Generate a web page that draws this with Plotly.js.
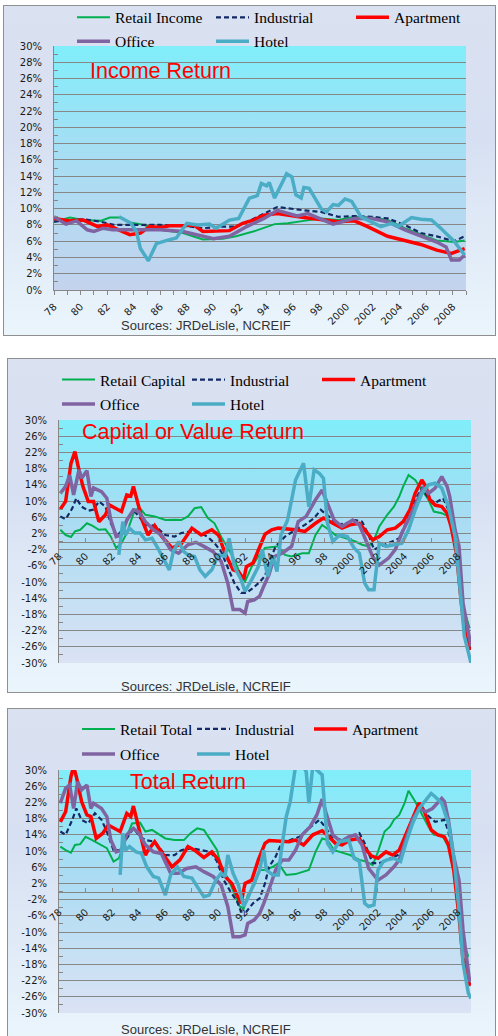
<!DOCTYPE html>
<html><head><meta charset="utf-8">
<script src="https://cdn.plot.ly/plotly-3.0.1.min.js"></script>
<style>
html,body{margin:0;padding:0;width:498px;height:1036px;overflow:hidden;background:#ffffff;}
.box{position:absolute;box-sizing:border-box;border:1px solid #8f8f8f;
 background:linear-gradient(180deg,#dae1f1 0%,#d7e0f2 40%,#eaf5fc 100%);}
.pa{position:absolute;}
.chart{position:absolute;}
</style></head><body>
<div id="b1" class="box"></div><div id="a1" class="pa"></div><div id="c1" class="chart"></div>
<div id="b2" class="box"></div><div id="a2" class="pa"></div><div id="c2" class="chart"></div>
<div id="b3" class="box"></div><div id="a3" class="pa"></div><div id="c3" class="chart"></div>
<script>
// ---------------- DATA (percent) ----------------
// Income return
const incRetailX = [1978.0,1979.2,1980.2,1981.5,1982.2,1983.0,1983.7,1984.5,1986.0,1987.7,1989.2,1990.7,1991.7,1993.2,1994.6,1995.6,1996.8,1998.1,1999.4,2000.6,2001.9,2003.1,2004.4,2005.6,2006.8,2008.1,2008.9];
const incRetailY = [8.4,8.9,8.6,8.5,8.9,8.9,8.3,8.1,7.4,7.0,6.2,6.3,6.6,7.3,8.1,8.2,8.5,8.8,8.6,9.0,8.9,8.6,7.6,6.8,6.1,5.9,6.1];
const incIndX = [1978.0,1979.2,1980.2,1981.5,1982.5,1984.2,1986.0,1987.7,1989.2,1990.7,1991.7,1992.7,1993.8,1994.8,1996.8,1998.1,1999.4,2000.6,2001.9,2003.1,2004.4,2005.6,2006.8,2008.1,2008.9];
const incIndY = [8.4,8.6,8.7,8.4,8.0,8.0,8.0,7.9,7.6,7.8,7.8,8.5,9.4,10.2,9.8,9.6,9.0,9.1,9.0,8.8,8.0,7.0,6.6,6.0,6.6];
const incAptX = [1978.0,1978.7,1979.2,1980.2,1981.3,1982.0,1982.7,1983.7,1984.5,1985.2,1986.0,1986.7,1987.7,1988.5,1989.2,1990.2,1991.2,1992.2,1993.0,1993.8,1994.8,1996.8,1998.1,1999.4,2000.6,2001.6,2003.1,2004.4,2005.6,2006.8,2007.9,2008.9];
const incAptY = [8.8,8.6,8.5,8.6,7.8,8.0,7.5,6.8,7.0,7.8,7.7,7.9,7.9,8.0,7.2,7.3,7.3,8.2,8.6,9.2,9.4,8.9,8.6,8.4,8.5,7.8,6.6,6.1,5.6,4.9,4.5,5.1];
const incOffX = [1978.0,1978.9,1979.7,1980.5,1981.0,1981.7,1982.4,1983.2,1984.2,1986.0,1987.7,1989.0,1990.0,1991.2,1992.5,1993.8,1994.8,1996.3,1997.1,1999.0,2000.6,2001.9,2003.1,2004.4,2005.6,2006.8,2007.5,2007.9,2008.5,2008.9];
const incOffY = [9.0,8.1,8.5,7.4,7.2,7.6,7.4,7.4,7.4,7.4,7.2,6.7,6.3,6.6,7.8,8.8,9.8,9.1,9.4,8.1,8.8,8.8,8.4,7.4,6.6,5.9,5.3,3.7,3.7,4.3];
const incHotX = [1982.9,1983.8,1984.2,1984.5,1985.1,1985.7,1986.5,1987.2,1988.0,1988.8,1989.7,1990.2,1991.2,1991.9,1992.7,1993.3,1993.6,1994.0,1994.2,1994.6,1995.5,1995.9,1996.2,1996.6,1996.8,1997.2,1998.1,1998.5,1999.0,1999.4,1999.9,2000.4,2001.1,2001.9,2002.6,2003.4,2003.9,2004.9,2005.6,2006.4,2007.1,2008.1,2008.9];
const incHotY = [9.0,8.2,7.2,5.1,3.6,5.7,6.1,6.4,8.2,8.0,8.1,7.6,8.6,8.8,11.3,11.6,13.1,12.8,13.2,11.3,14.3,13.9,11.7,11.3,12.6,12.5,10.0,9.6,10.5,10.4,11.2,10.9,9.0,8.4,7.8,8.2,7.8,8.9,8.7,8.6,7.6,6.0,4.3];

// Capital or value return
const capRetailX = [1978.1,1978.5,1978.9,1979.2,1979.6,1980.1,1980.5,1981.0,1981.5,1981.9,1982.3,1982.7,1983.1,1983.7,1984.1,1984.5,1985.2,1986.0,1986.7,1987.2,1987.7,1988.2,1988.7,1989.2,1989.7,1990.2,1990.7,1991.2,1991.7,1992.0,1992.5,1993.0,1993.5,1994.5,1995.0,1995.5,1996.3,1996.8,1997.3,1997.8,1998.3,1998.8,1999.6,2000.3,2000.8,2001.3,2001.7,2002.1,2002.7,2003.2,2003.6,2003.9,2004.3,2004.8,2005.3,2005.8,2006.2,2006.8,2007.3,2007.7,2008.1,2008.4,2008.9];
const capRetailY = [2.9,1.6,1.1,2.5,2.9,4.5,3.9,2.9,3.0,1.2,-1.6,-0.4,2.1,7.8,8.2,6.6,6.2,5.3,5.4,5.3,6.2,8.2,8.5,5.8,4.5,1.2,-1.6,-4.5,-8.6,-9.9,-6.2,-3.7,-1.6,-1.2,-3.3,-3.7,-2.9,-2.9,1.6,4.1,2.9,1.6,0.8,0.0,-0.8,-1.2,0.4,3.7,6.6,8.6,11.1,13.6,16.4,15.2,12.7,10.3,7.4,7.0,6.2,2.9,-7.0,-16.0,-21.4];
const capIndX = [1978.1,1978.5,1979.0,1979.3,1979.7,1980.2,1980.6,1981.0,1981.5,1981.9,1982.4,1983.0,1983.6,1984.0,1984.5,1985.2,1986.0,1986.7,1987.2,1988.0,1988.7,1989.2,1989.7,1990.2,1990.7,1991.2,1991.7,1992.1,1992.6,1993.1,1993.5,1993.8,1994.3,1995.0,1995.8,1996.5,1997.2,1997.7,1998.3,1998.9,1999.6,2000.3,2000.8,2001.3,2001.7,2002.2,2002.8,2003.6,2004.2,2004.8,2005.3,2005.8,2006.3,2006.9,2007.3,2007.8,2008.2,2008.5,2009.0];
const capIndY = [6.2,5.5,8.2,10.7,8.6,7.6,7.9,9.9,8.6,4.5,1.2,4.5,7.8,6.2,4.1,3.9,1.6,1.2,2.1,2.5,2.1,1.1,-0.4,-2.5,-6.2,-10.3,-12.7,-12.7,-11.5,-10.0,-8.5,-5.3,-1.2,1.2,2.9,4.1,5.8,7.8,6.2,4.1,4.5,5.3,4.9,1.6,-2.0,-1.2,-0.4,0.8,5.3,10.3,13.2,10.7,9.5,10.7,7.8,2.9,-11.1,-21.8,-26.7];
const capAptX = [1978.1,1978.5,1978.9,1979.2,1979.5,1979.8,1980.2,1980.6,1981.0,1981.5,1981.8,1982.3,1982.7,1983.1,1983.4,1983.6,1983.9,1984.3,1984.7,1985.2,1985.7,1986.5,1987.2,1988.0,1988.7,1989.5,1990.0,1990.5,1991.1,1991.5,1991.9,1992.1,1992.6,1993.1,1993.5,1994.0,1994.5,1995.8,1996.5,1997.3,1997.9,1998.6,1999.3,1999.9,2000.6,2001.1,2001.6,2002.1,2002.7,2003.3,2003.9,2004.4,2004.8,2005.3,2005.6,2005.9,2006.3,2006.8,2007.2,2007.5,2007.9,2008.3,2008.6,2009.0];
const capAptY = [8.0,9.9,19.3,22.2,17.7,13.6,9.9,9.9,4.9,6.6,9.0,8.2,7.4,11.5,11.2,13.6,9.5,4.9,1.6,3.9,1.4,-1.6,-0.6,3.3,1.6,2.9,1.6,-2.9,-7.0,-7.4,-9.3,-6.2,-5.3,-1.6,1.8,2.9,3.3,2.9,2.5,4.5,5.8,4.5,3.3,4.1,4.5,2.5,0.4,1.2,2.9,3.3,4.9,7.8,11.9,15.2,13.6,10.3,9.0,8.6,7.0,3.7,-2.9,-16.0,-23.4,-26.7];
const capOffX = [1978.1,1978.5,1978.8,1979.1,1979.5,1979.7,1980.1,1980.4,1980.6,1981.2,1981.6,1981.9,1982.3,1982.7,1983.1,1983.6,1984.0,1984.5,1985.1,1985.7,1986.4,1987.0,1987.7,1988.3,1988.9,1989.6,1990.2,1990.7,1991.1,1991.6,1992.0,1992.2,1992.7,1993.1,1993.4,1993.8,1994.2,1994.8,1995.5,1996.0,1996.6,1997.3,1997.8,1998.2,1998.7,1999.3,2000.1,2000.6,2001.1,2001.6,2002.1,2002.8,2003.3,2003.8,2004.4,2005.1,2005.4,2005.8,2006.3,2006.8,2007.2,2007.4,2007.8,2008.1,2008.4,2009.0];
const capOffY = [11.9,13.6,16.4,11.5,17.7,15.6,17.5,11.1,13.2,12.3,10.7,5.3,1.2,1.6,5.3,7.8,7.4,4.9,2.9,1.6,-2.0,-2.9,-0.8,-0.2,-1.2,-2.5,-4.9,-10.3,-16.8,-16.8,-17.7,-14.8,-14.4,-13.5,-11.1,-8.2,-3.7,-2.9,-1.2,4.9,6.2,10.3,12.7,9.5,5.3,3.7,5.3,4.1,0.0,-3.7,-5.8,-4.1,-2.0,2.1,6.2,11.1,13.2,11.9,13.2,16.0,13.6,11.1,2.9,-1.2,-15.2,-25.9];
const capHotX = [1982.5,1982.8,1983.0,1983.3,1983.7,1984.1,1984.5,1985.0,1985.5,1986.0,1986.3,1986.6,1987.0,1987.4,1987.7,1988.2,1988.6,1989.0,1989.5,1990.0,1990.5,1990.8,1991.2,1991.7,1992.0,1992.5,1993.0,1993.3,1993.7,1994.1,1994.4,1994.7,1995.2,1995.8,1996.4,1996.8,1997.2,1997.6,1997.9,1998.2,1998.6,1999.1,1999.7,2000.2,2000.6,2001.0,2001.3,2001.7,2002.1,2002.6,2003.2,2003.8,2004.3,2004.8,2005.3,2005.8,2006.3,2006.8,2007.3,2007.8,2008.2,2008.5,2009.0];
const capHotY = [-3.3,4.9,1.6,3.3,2.1,2.1,0.4,0.8,-2.0,-5.3,-7.0,-2.5,0.0,-2.5,-3.3,-3.7,-7.0,-8.6,-7.0,-3.3,-3.7,0.8,-6.2,-9.4,-12.3,-9.4,-6.2,-2.0,-8.6,-3.7,-7.4,1.6,5.3,15.2,19.3,8.6,17.7,16.8,15.6,4.5,0.0,1.6,1.2,-1.6,-2.9,-10.3,-11.9,-11.9,-0.4,-1.2,-0.8,-0.4,2.9,7.8,11.9,14.0,14.4,13.2,8.6,1.2,-12.7,-23.4,-30.0];

// Total return
const totRetailX = [1978.1,1978.5,1978.9,1979.2,1979.6,1980.0,1980.5,1981.1,1981.6,1982.1,1982.5,1983.0,1983.5,1984.1,1984.5,1985.0,1986.0,1986.7,1987.4,1987.9,1988.4,1988.9,1989.4,1989.9,1990.2,1990.7,1991.2,1991.6,1991.9,1992.2,1992.7,1993.1,1993.5,1994.1,1994.5,1995.1,1995.8,1996.4,1996.8,1997.3,1997.8,1998.2,1998.7,1999.3,1999.9,2000.6,2001.1,2001.6,2002.0,2002.5,2002.9,2003.2,2003.6,2004.0,2004.3,2004.8,2005.3,2005.8,2006.2,2006.8,2007.3,2007.7,2008.1,2008.4,2008.8];
const totRetailY = [11.1,10.2,9.6,11.5,11.7,13.5,12.7,11.5,10.7,7.4,8.2,12.7,16.8,17.0,14.8,15.2,13.1,12.7,12.7,14.4,15.6,15.2,12.7,10.2,6.1,3.3,-0.5,-3.7,-4.2,-0.9,1.6,5.3,5.3,6.1,7.0,4.1,4.3,4.9,5.3,9.8,13.1,12.7,10.2,9.6,9.0,7.8,7.4,6.5,9.8,14.8,16.0,17.7,18.9,21.8,24.9,22.2,18.9,16.0,14.0,14.0,11.1,6.1,-4.6,-12.0,-16.1];
const totIndX = [1978.1,1978.5,1979.0,1979.3,1979.7,1980.2,1980.7,1981.2,1981.6,1982.1,1982.6,1983.1,1983.6,1984.1,1984.5,1985.2,1986.0,1986.7,1987.2,1988.0,1988.7,1989.4,1989.9,1990.4,1990.9,1991.4,1991.7,1992.1,1992.6,1993.1,1993.5,1993.8,1994.3,1994.8,1995.3,1996.1,1996.8,1997.6,1998.1,1998.6,1999.3,1999.9,2000.6,2001.0,2001.6,2002.1,2002.7,2003.5,2004.1,2004.7,2005.2,2005.7,2006.3,2007.0,2007.3,2007.7,2008.1,2008.4,2008.9];
const totIndY = [14.8,14.0,17.7,20.5,17.7,16.8,19.3,17.7,14.8,10.2,10.2,13.1,15.6,13.5,12.7,12.3,9.0,9.0,10.2,10.7,10.2,9.8,7.4,2.8,0.0,-2.5,-5.0,-5.0,-2.9,-1.7,2.0,6.1,8.6,12.3,12.6,13.5,15.6,17.7,15.6,13.1,12.7,13.5,14.4,11.9,7.0,7.0,7.8,9.0,13.5,18.5,21.4,18.9,17.2,17.7,14.8,7.8,-3.7,-15.3,-22.7];
const totAptX = [1978.1,1978.5,1978.9,1979.1,1979.3,1979.7,1980.1,1980.4,1980.8,1981.3,1981.7,1982.2,1982.6,1983.1,1983.4,1983.6,1983.9,1984.5,1984.7,1985.2,1985.7,1986.5,1987.1,1987.7,1988.2,1988.9,1989.5,1990.0,1990.5,1991.0,1991.4,1991.7,1992.0,1992.5,1993.0,1993.5,1993.8,1994.5,1995.3,1995.8,1996.4,1997.1,1997.8,1998.3,1998.8,1999.3,1999.9,2000.6,2001.0,2001.5,2002.0,2002.6,2003.1,2003.6,2004.1,2004.6,2005.1,2005.5,2006.0,2006.5,2007.0,2007.3,2007.7,2008.1,2008.4,2008.8,2009.0];
const totAptY = [17.2,19.7,28.4,30.8,28.4,22.2,18.9,18.5,13.1,14.4,16.4,15.6,14.8,19.3,18.5,21.1,16.8,9.0,10.2,12.3,9.8,6.1,7.8,11.1,10.2,8.4,9.8,7.8,3.7,2.0,-0.9,-2.9,2.0,2.8,7.8,11.9,12.6,12.5,12.3,12.7,11.5,14.0,15.0,13.5,11.9,11.5,12.7,13.1,10.7,8.8,8.2,9.8,9.0,10.2,14.0,17.7,21.9,19.7,15.2,14.0,13.5,11.5,5.3,-6.2,-16.9,-22.7,-23.1];
const totOffX = [1978.1,1978.5,1978.8,1979.1,1979.4,1979.7,1980.1,1980.4,1980.6,1981.2,1981.6,1981.9,1982.3,1982.7,1983.1,1983.6,1984.0,1984.5,1985.1,1985.7,1986.4,1987.0,1987.6,1988.3,1988.9,1989.6,1990.2,1990.7,1991.1,1991.6,1992.0,1992.2,1992.7,1993.1,1993.4,1993.7,1994.0,1994.3,1994.8,1995.3,1995.8,1996.3,1996.9,1997.4,1997.8,1998.1,1998.6,1999.2,1999.8,2000.3,2000.8,2001.3,2002.0,2002.6,2003.2,2003.6,2004.1,2004.6,2005.1,2005.6,2006.1,2006.8,2007.0,2007.3,2007.7,2008.1,2008.4,2008.9];
const totOffY = [21.8,25.5,26.3,20.5,27.1,25.1,26.3,20.5,21.8,20.5,18.5,12.7,9.8,10.2,14.0,15.6,14.4,11.5,9.8,9.4,4.5,4.5,5.7,6.1,4.9,3.7,1.6,-3.7,-11.2,-11.2,-10.7,-7.9,-7.0,-5.4,-3.0,-0.5,2.4,5.3,7.8,7.8,10.2,14.0,16.0,18.9,22.8,19.3,14.0,12.3,13.5,14.0,11.5,5.7,2.8,4.1,6.1,7.8,13.1,17.7,20.5,19.7,20.5,23.0,22.2,17.7,8.6,2.8,-9.5,-22.3];
const totHotX = [1982.6,1982.8,1983.0,1983.3,1983.8,1984.2,1984.6,1985.1,1985.5,1986.0,1986.4,1986.9,1987.4,1988.0,1988.4,1988.9,1989.3,1989.8,1990.2,1990.5,1990.7,1991.1,1991.5,1991.9,1992.2,1992.7,1993.1,1993.4,1993.6,1994.1,1994.5,1994.7,1995.1,1995.4,1995.8,1996.2,1996.6,1996.8,1997.1,1997.4,1997.8,1998.2,1998.6,1999.1,1999.8,2000.2,2000.6,2001.0,2001.3,2001.7,2002.0,2002.4,2002.7,2003.2,2003.7,2004.1,2004.6,2005.1,2005.6,2006.0,2006.3,2006.8,2007.3,2007.7,2008.1,2008.4,2008.8,2009.0];
const totHotY = [4.1,14.4,10.2,11.1,9.8,9.4,6.1,3.7,3.3,-0.9,4.1,6.1,3.7,3.3,1.2,-1.3,-0.9,2.8,4.5,3.7,9.0,4.5,1.6,-3.7,-1.7,2.4,5.3,10.2,5.3,4.1,4.1,9.4,18.5,22.2,31.0,32.0,29.6,21.8,31.0,30.0,28.8,11.9,9.8,12.3,12.7,8.2,7.4,-2.9,-3.7,-3.3,5.3,7.4,7.8,8.2,7.4,11.9,16.8,20.5,22.6,24.2,23.4,21.8,16.8,8.6,-4.6,-17.7,-25.1,-26.4];

// Legend names
const incNames = ['Retail Income','Industrial','Apartment','Office','Hotel'];
const capNames = ['Retail Capital','Industrial','Apartment','Office','Hotel'];
const totNames = ['Retail Total','Industrial','Apartment','Office','Hotel'];

// Tick labels
const xTickVals = [1978,1980,1982,1984,1986,1988,1990,1992,1994,1996,1998,2000,2002,2004,2006,2008];
const xTickText = ['78','80','82','84','86','88','90','92','94','96','98','2000','2002','2004','2006','2008'];
const yTickVals1 = [0,2,4,6,8,10,12,14,16,18,20,22,24,26,28,30];
const yTickText1 = ['0%','2%','4%','6%','8%','10%','12%','14%','16%','18%','20%','22%','24%','26%','28%','30%'];
const yTickVals2 = [-30,-26,-22,-18,-14,-10,-6,-2,2,6,10,14,18,22,26,30];
const yTickText2 = ['-30%','-26%','-22%','-18%','-14%','-10%','-6%','-2%','2%','6%','10%','14%','18%','22%','26%','30%'];

// ---------------- STYLE / LAYOUT ----------------
const styles = [
  {color:'#00b050', width:2, dash:'solid'},
  {color:'#142a66', width:2.2, dash:'5px,3px'},
  {color:'#ff0000', width:3.5, dash:'solid'},
  {color:'#8064a2', width:3.5, dash:'solid'},
  {color:'#4bacc6', width:3.5, dash:'solid'}
];
const GRID = '#878787';

const panels = [
  {id:1, box:{x:3,y:5,w:493,h:331}, plot:{x:54,y:46,w:412,h:244},
   plotBg:'linear-gradient(180deg,#80eefa 0%,#a4dff4 40%,#c4d3ee 100%)',
   names:incNames,
   xs:[incRetailX,incIndX,incAptX,incOffX,incHotX], ys:[incRetailY,incIndY,incAptY,incOffY,incHotY],
   legend:[[77,17.7],[216,17.7],[356,17.7],[77,41.7],[216,41.7]],
   title:'Income Return', titlePos:[90,70], srcY:325.7,
   yr:[0,30], ytv:yTickVals1, ytt:yTickText1, minor0:1, minorD:2, zeroAxis:false, xStand:2},
  {id:2, box:{x:7,y:358,w:489,h:335}, plot:{x:59,y:420,w:412,h:243},
   plotBg:'linear-gradient(180deg,#80eefa 0%,#a8dcf3 40%,#dbe2f4 100%)',
   names:capNames,
   xs:[capRetailX,capIndX,capAptX,capOffX,capHotX], ys:[capRetailY,capIndY,capAptY,capOffY,capHotY],
   legend:[[62,380],[192,380],[322,380],[62,404.3],[192,404.3]],
   title:'Capital or Value Return', titlePos:[82,431.7], srcY:686.7,
   yr:[-30,30], ytv:yTickVals2, ytt:yTickText2, minor0:0, minorD:4, zeroAxis:true, xStand:4},
  {id:3, box:{x:7,y:708,w:489,h:332}, plot:{x:59,y:770,w:412,h:243},
   plotBg:'linear-gradient(180deg,#80eefa 0%,#a8dcf3 40%,#dbe2f4 100%)',
   names:totNames,
   xs:[totRetailX,totIndX,totAptX,totOffX,totHotX], ys:[totRetailY,totIndY,totAptY,totOffY,totHotY],
   legend:[[82,729.3],[197,729.3],[314,729.3],[82,754.3],[197,754.3]],
   title:'Total Return', titlePos:[130,781.7], srcY:1029,
   yr:[-30,30], ytv:yTickVals2, ytt:yTickText2, minor0:0, minorD:4, zeroAxis:true, xStand:10}
];

function place(el, r){ el.style.left=r.x+'px'; el.style.top=r.y+'px'; el.style.width=r.w+'px'; el.style.height=r.h+'px'; }

panels.forEach(function(P){
  place(document.getElementById('b'+P.id), P.box);
  const pa = document.getElementById('a'+P.id);
  place(pa, P.plot); pa.style.background = P.plotBg;
  const c = document.getElementById('c'+P.id);
  place(c, P.box);
  const px = function(X){ return (X - P.plot.x)/P.plot.w; };
  const py = function(Y){ return (P.plot.y + P.plot.h - Y)/P.plot.h; };

  const traces = [];
  const layout = {
    width:P.box.w, height:P.box.h,
    margin:{l:P.plot.x-P.box.x, t:P.plot.y-P.box.y,
            r:P.box.x+P.box.w-(P.plot.x+P.plot.w), b:P.box.y+P.box.h-(P.plot.y+P.plot.h), pad:0, autoexpand:false},
    paper_bgcolor:'rgba(0,0,0,0)', plot_bgcolor:'rgba(0,0,0,0)',
    font:{family:'DejaVu Sans', size:10, color:'#1a1a1a'},
    title:{text:P.title, xref:'paper', yref:'paper', x:px(P.titlePos[0]), xanchor:'left',
           y:py(P.titlePos[1]), yanchor:'middle', pad:{t:0,b:0,l:0,r:0},
           font:{family:'Liberation Sans', size:21.5, color:'#ff0000'}},
    xaxis:{range:[1978,2009], tickmode:'array', tickvals:xTickVals, ticktext:xTickText,
           tickangle:-45, showgrid:false, zeroline:false, showline:true, linecolor:GRID, linewidth:1,
           ticks: P.zeroAxis ? 'inside' : 'outside', ticklen:4, tickcolor:GRID,
           minor: P.zeroAxis ? {ticks:''} : {tickmode:'linear', tick0:1979, dtick:2, ticks:'outside', ticklen:4, tickcolor:GRID},
           ticklabelstandoff:P.xStand,
           tickfont:{family:'DejaVu Sans', size:10, color:'#1a1a1a'},
           fixedrange:true},
    yaxis:{range:P.yr, tickmode:'array', tickvals:P.ytv, ticktext:P.ytt,
           showgrid:true, gridcolor:GRID, gridwidth:1, zeroline:false,
           showline:true, linecolor:GRID, linewidth:1, ticks:'',
           minor:{tickmode:'linear', tick0:P.minor0, dtick:P.minorD, ticks:'inside', ticklen:4, tickcolor:GRID, showgrid:false},
           ticklabelstandoff:9,
           tickfont:{family:'DejaVu Sans', size:10, color:'#1a1a1a'},
           fixedrange:true},
    showlegend:true,
    annotations:[{text:'Sources: JRDeLisle, NCREIF', xref:'paper', yref:'paper',
                  x:px(206.4), y:py(P.srcY), xanchor:'center', yanchor:'middle', showarrow:false,
                  font:{family:'Liberation Sans', size:13, color:'#333333'}}]
  };
  if(P.zeroAxis){ layout.xaxis.anchor='free'; layout.xaxis.position=0.5; }

  for(let i=0;i<5;i++){
    const lg = i===0 ? 'legend' : 'legend'+(i+1);
    traces.push({type:'scatter', mode:'lines', name:P.names[i], x:P.xs[i], y:P.ys[i],
      line:{color:styles[i].color, width:styles[i].width, dash:styles[i].dash},
      legend:lg, hoverinfo:'skip'});
    layout[lg] = {x:px(P.legend[i][0]-5), xanchor:'left', y:py(P.legend[i][1]), yanchor:'middle',
      bgcolor:'rgba(0,0,0,0)', borderwidth:0, itemwidth:33,
      font:{family:'Liberation Serif', size:15.5, color:'#000000'}};
  }
  Plotly.newPlot(c, traces, layout, {staticPlot:true, displayModeBar:false});
});
</script>
</body></html>
